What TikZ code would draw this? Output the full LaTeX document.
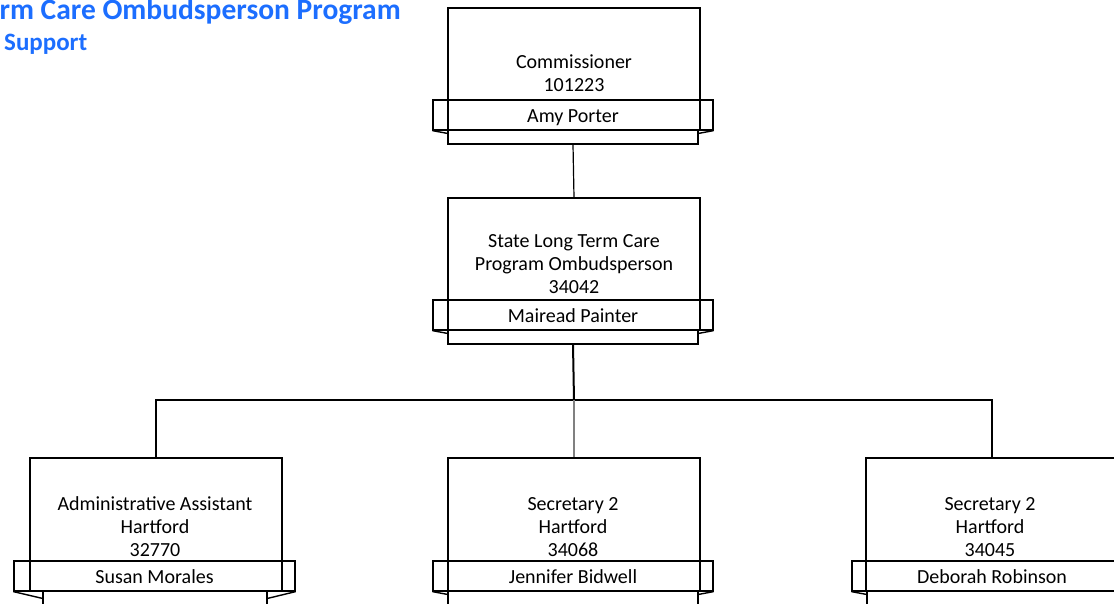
\documentclass[tikz,border=0pt]{standalone}
\usepackage{fontspec}
\setmainfont{Carlito}
\usetikzlibrary{positioning}
\definecolor{titleblue}{RGB}{28,110,255}
\tikzstyle{band} = [rectangle,draw,line width=1.2pt,minimum width=280pt,minimum height=30pt,inner sep=0pt,text height=17pt,text depth=3pt,font=\fontsize{20}{23}\selectfont]

\begin{document}
\begin{tikzpicture}
		[x=1pt,y=-1pt,
		post/.style={
		draw,
		rectangle,
		line width=1.2pt,
		minimum width=252pt,
		inner sep=0pt},
		low/.style={draw,rectangle,line width=1.2pt,minimum width=250pt,minimum height=14pt,inner sep=0pt},
		txt/.style={align=center,font=\fontsize{20}{23}\selectfont},
		title/.style={text=titleblue,inner sep=0pt,font=\fontsize{25}{30}\selectfont\bfseries},
		link/.style={draw,line width=1.2pt},
		fold/.style={line width=1.4pt}
		]
		\useasboundingbox (0,0) rectangle (1114,603);
		\clip (0,0) rectangle (1114,603);
		% heading
		\node[title,anchor=base east,font=\fontsize{29.5}{30}\selectfont\bfseries](head) at (401,19) {rm Care Ombudsperson Program};
		\node[title,anchor=base west](sub) at (4,50) {Support};
		% commissioner
		\node[post,minimum height=122pt](comm) at (574,69) {};
		\node[txt](comm_t) at (574,73) {Commissioner\\101223};
		\node[band](comm_band) at (573,115) {Amy Porter};
		\node[low](comm_low) at (573,137) {};
		\draw[fold] (comm_band.south west) -- ([yshift=-4pt]comm_low.north west);
		\draw[fold] (comm_band.south east) -- ([yshift=-4pt]comm_low.north east);
		% ombudsperson
		\node[post,minimum height=132pt](lco) at (574,264) {};
		\node[txt](lco_t) at (574,264) {State Long Term Care\\Program Ombudsperson\\34042};
		\node[band](lco_band) at (573,315) {Mairead Painter};
		\node[low](lco_low) at (573,337) {};
		\draw[fold] (lco_band.south west) -- ([yshift=-4pt]lco_low.north west);
		\draw[fold] (lco_band.south east) -- ([yshift=-4pt]lco_low.north east);
		% staff
		\node[post,minimum height=133pt](admin) at (156,524.5) {};
		\node[txt](admin_t) at (155,527) {Administrative Assistant\\Hartford\\32770};
		\node[band,minimum width=281pt](admin_band) at (154.5,576) {Susan Morales};
		\node[low,minimum width=224pt,minimum height=24pt](admin_low) at (155,603) {};
		\draw[fold] (admin_band.south west) -- ([yshift=-8pt]admin_low.north west);
		\draw[fold] (admin_band.south east) -- ([yshift=-8pt]admin_low.north east);

		\node[post,minimum height=133pt](secA) at (574,524.5) {};
		\node[txt](secA_t) at (573,527) {Secretary 2\\Hartford\\34068};
		\node[band](secA_band) at (573,576) {Jennifer Bidwell};
		\node[low,minimum height=24pt](secA_low) at (573,603) {};
		\draw[fold] (secA_band.south west) -- ([yshift=-4pt]secA_low.north west);
		\draw[fold] (secA_band.south east) -- ([yshift=-4pt]secA_low.north east);

		\node[post,minimum height=133pt](secB) at (992,524.5) {};
		\node[txt](secB_t) at (990,527) {Secretary 2\\Hartford\\34045};
		\node[band](secB_band) at (992,576) {Deborah Robinson};
		\node[low,minimum height=24pt](secB_low) at (992,603) {};
		\draw[fold] (secB_band.south west) -- ([yshift=-4pt]secB_low.north west);
		% reporting lines
		\coordinate (bus) at (574,400);
		\draw[link] (comm_low.south) -- (lco.north);
		\draw[line width=2pt] (lco_low.south) -- (bus);
		\draw[link] (admin.north) |- (bus) -| (secB.north);
		\draw[line width=2pt,gray] (bus) -- (secA.north);
		\end{tikzpicture}
\end{document}
